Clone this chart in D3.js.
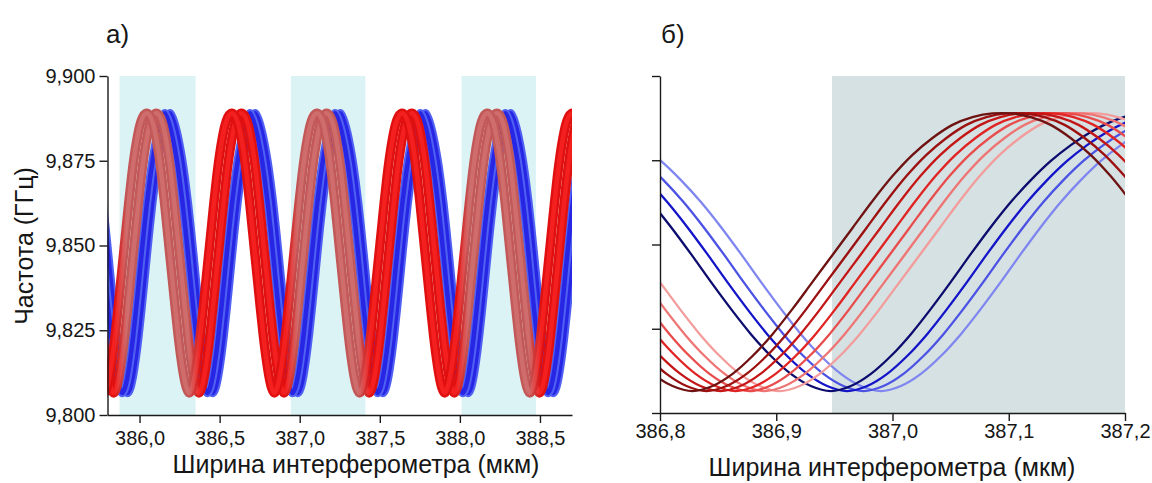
<!DOCTYPE html>
<html>
<head>
<meta charset="utf-8">
<script src="https://cdn.jsdelivr.net/npm/d3@7"></script>
<style>
  body { margin: 0; background: #fff; }
  svg { display: block; }
  text { font-family: "Liberation Sans", Arial, sans-serif; fill: #161616; }
</style>
</head>
<body>
<svg id="chart" width="1152" height="483"></svg>
<script>
// One half-period of the oscillation: offset from a minimum (мкм) and frequency (ГГц)
const profileOffset = [0, 0.0172, 0.0344, 0.0516, 0.0688, 0.0860, 0.1032, 0.1204, 0.1376, 0.1548, 0.1720, 0.1892, 0.2064, 0.2236, 0.2408, 0.2580, 0.2658];
const profileBlue = [9.8065, 9.8080, 9.8116, 9.8169, 9.8234, 9.8309, 9.8389, 9.8472, 9.8552, 9.8626, 9.8691, 9.8748, 9.8795, 9.8834, 9.8864, 9.8884, 9.8890];
const profileRed  = [9.8065, 9.8080, 9.8116, 9.8169, 9.8234, 9.8309, 9.8389, 9.8469, 9.8549, 9.8629, 9.8703, 9.8766, 9.8816, 9.8855, 9.8878, 9.8889, 9.8890];

// Position of a reference minimum for every curve (мкм)
const leftRedMinima = [386.842, 386.902];
const leftBlueMinima = [386.955, 386.988];
const rightRedMinima = [386.828, 386.840, 386.852, 386.865, 386.877, 386.890, 386.903];
const rightBlueMinima = [386.947, 386.961, 386.975, 386.990];

const rightRedColors = ["#6e1212", "#9c1010", "#c41616", "#e02424", "#e94c4c", "#ef7474", "#f39c9c"];
const rightBlueColors = ["#0c0c6e", "#1414c8", "#4b52e4", "#7f86ef"];

// Highlighted intervals of interferometer width
const leftBands = [[385.875, 386.35], [386.945, 387.41], [388.01, 388.475]];
const rightBands = [[386.948, 387.2]];

// Axes
const leftXTicks = [386.0, 386.5, 387.0, 387.5, 388.0, 388.5];
const leftXLabels = ["386,0", "386,5", "387,0", "387,5", "388,0", "388,5"];
const leftXMinor = [386.25, 386.75, 387.25, 387.75, 388.25];
const rightXTicks = [386.8, 386.9, 387.0, 387.1, 387.2];
const rightXLabels = ["386,8", "386,9", "387,0", "387,1", "387,2"];
const rightXMinor = [386.85, 386.95, 387.05, 387.15];
const yTicks = [9.800, 9.825, 9.850, 9.875, 9.900];
const yLabels = ["9,800", "9,825", "9,850", "9,875", "9,900"];
const yMinor = [9.8125, 9.8375, 9.8625, 9.8875];

const halfPeriod = profileOffset[profileOffset.length - 1];
const period = 2 * halfPeriod;

// Tile the half-period profile (rise, then mirrored fall) across [x0, x1]
function buildCurve(minX, profile, x0, x1) {
  const pts = [];
  const kStart = Math.floor((x0 - minX) / period) - 1;
  const kEnd = Math.ceil((x1 - minX) / period) + 1;
  const n = profile.length;
  for (let k = kStart; k <= kEnd; k++) {
    const base = minX + k * period;
    for (let i = 0; i < n; i++) pts.push([base + profileOffset[i], profile[i]]);
    for (let i = n - 2; i >= 1; i--) pts.push([base + period - profileOffset[i], profile[i]]);
  }
  return pts;
}

const svg = d3.select("#chart");
const defs = svg.append("defs");

function drawAxes(g, x, y, xTicks, xLabels, xMinor, showYLabels, labelSize, xPad) {
  const [y0] = y.range();
  const [x0] = x.range();
  const ax = g.append("g").attr("transform", `translate(0,${y0})`);
  ax.call(d3.axisBottom(x).tickValues(xMinor).tickSize(4).tickSizeOuter(0).tickFormat(""));
  ax.call(d3.axisBottom(x).tickValues(xTicks).tickSize(8).tickSizeOuter(0)
    .tickPadding(xPad).tickFormat((d, i) => xLabels[i]));
  const ay = g.append("g").attr("transform", `translate(${x0},0)`);
  ay.call(d3.axisLeft(y).tickValues(yMinor).tickSize(4).tickSizeOuter(0).tickFormat(""));
  ay.call(d3.axisLeft(y).tickValues(yTicks).tickSize(8).tickSizeOuter(0)
    .tickPadding(4).tickFormat((d, i) => showYLabels ? yLabels[i] : ""));
  g.selectAll(".domain, .tick line").attr("stroke", "#1a1a1a").attr("stroke-width", 1.4);
  g.selectAll(".tick text").attr("font-size", labelSize).attr("fill", "#161616")
    .style("font-family", '"Liberation Sans", Arial, sans-serif');
}

// ---------- Panel а) ----------
const xL = d3.scaleLinear([385.8, 388.7], [107.5, 572]);
const yL = d3.scaleLinear([9.8, 9.9], [415, 76]);
const gL = svg.append("g");

defs.append("clipPath").attr("id", "clipL").append("rect")
  .attr("x", 107.5).attr("y", 70).attr("width", 572 - 107.5).attr("height", 415 - 70);

gL.selectAll("rect.band").data(leftBands).join("rect").attr("class", "band")
  .attr("x", d => xL(d[0])).attr("width", d => xL(d[1]) - xL(d[0]))
  .attr("y", yL(9.9)).attr("height", yL(9.8) - yL(9.9))
  .attr("fill", "#dcf3f5");

// Red tube colour: rosy inside highlighted intervals, vivid red outside
function tubeGradient(id, outside, inside) {
  const [r0, r1] = xL.range();
  const grad = defs.append("linearGradient").attr("id", id)
    .attr("gradientUnits", "userSpaceOnUse").attr("x1", r0).attr("x2", r1).attr("y1", 0).attr("y2", 0);
  const stops = [[r0, outside]];
  leftBands.forEach(([a, b]) => {
    stops.push([xL(a) - 5, outside], [xL(a) + 7, inside], [xL(b) - 7, inside], [xL(b) + 5, outside]);
  });
  stops.push([r1, outside]);
  grad.selectAll("stop").data(stops).join("stop")
    .attr("offset", d => Math.max(0, Math.min(1, (d[0] - r0) / (r1 - r0))))
    .attr("stop-color", d => d[1]);
}
tubeGradient("redBase", "#e01010", "#c25858");
tubeGradient("redCore", "#f42020", "#cf6c6c");

const lineL = d3.line().x(d => xL(d[0])).y(d => yL(d[1])).curve(d3.curveMonotoneX);
const tubesL = gL.append("g").attr("clip-path", "url(#clipL)").attr("fill", "none").attr("stroke-linecap", "round");

leftBlueMinima.slice().reverse().forEach(m => {
  const pts = buildCurve(m, profileBlue, 385.8, 388.7);
  tubesL.append("path").attr("d", lineL(pts)).attr("stroke", "#5060f2").attr("stroke-width", 8.5);
  tubesL.append("path").attr("d", lineL(pts)).attr("stroke", "#2626e4").attr("stroke-width", 4.5);
});
leftRedMinima.slice().reverse().forEach(m => {
  const pts = buildCurve(m, profileRed, 385.8, 388.7);
  tubesL.append("path").attr("d", lineL(pts)).attr("stroke", "url(#redBase)").attr("stroke-width", 9.5);
  tubesL.append("path").attr("d", lineL(pts)).attr("stroke", "url(#redCore)").attr("stroke-width", 4.5);
});

drawAxes(gL, xL, yL, leftXTicks, leftXLabels, leftXMinor, true, 20, 8);

svg.append("text").attr("x", 106).attr("y", 43).attr("font-size", 26).text("а)");
svg.append("text").attr("x", 356).attr("y", 473).attr("text-anchor", "middle").attr("font-size", 25)
  .text("Ширина интерферометра (мкм)");
svg.append("text").attr("transform", "translate(33,246) rotate(-90)").attr("text-anchor", "middle")
  .attr("font-size", 25).text("Частота (ГГц)");

// ---------- Panel б) ----------
const xR = d3.scaleLinear([386.8, 387.2], [660, 1125]);
const yR = d3.scaleLinear([9.8, 9.9], [413, 76]);
const gR = svg.append("g");

defs.append("clipPath").attr("id", "clipR").append("rect")
  .attr("x", 660).attr("y", 70).attr("width", 1125 - 660).attr("height", 413 - 70);

gR.selectAll("rect.band").data(rightBands).join("rect").attr("class", "band")
  .attr("x", d => xR(d[0])).attr("width", d => xR(d[1]) - xR(d[0]))
  .attr("y", yR(9.9)).attr("height", yR(9.8) - yR(9.9))
  .attr("fill", "#d5e1e2");

const lineR = d3.line().x(d => xR(d[0])).y(d => yR(d[1])).curve(d3.curveMonotoneX);
const linesR = gR.append("g").attr("clip-path", "url(#clipR)").attr("fill", "none");

rightBlueMinima.map((m, i) => [m, rightBlueColors[i]]).reverse().forEach(([m, c]) => {
  linesR.append("path").attr("d", lineR(buildCurve(m, profileBlue, 386.8, 387.2)))
    .attr("stroke", c).attr("stroke-width", 2.3);
});
rightRedMinima.map((m, i) => [m, rightRedColors[i]]).reverse().forEach(([m, c]) => {
  linesR.append("path").attr("d", lineR(buildCurve(m, profileRed, 386.8, 387.2)))
    .attr("stroke", c).attr("stroke-width", 2.3);
});

drawAxes(gR, xR, yR, rightXTicks, rightXLabels, rightXMinor, false, 20, 3);

svg.append("text").attr("x", 661).attr("y", 43).attr("font-size", 26).text("б)");
svg.append("text").attr("x", 892).attr("y", 476).attr("text-anchor", "middle").attr("font-size", 25)
  .text("Ширина интерферометра (мкм)");
</script>
</body>
</html>
